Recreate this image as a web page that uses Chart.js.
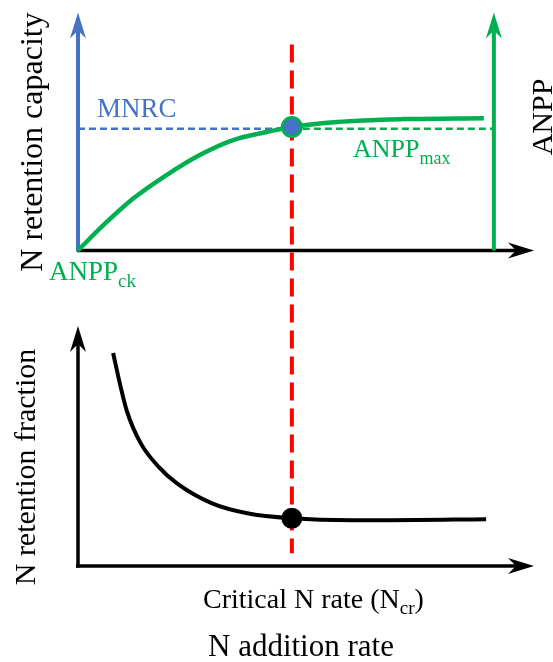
<!DOCTYPE html>
<html>
<head>
<meta charset="utf-8">
<script src="https://cdn.jsdelivr.net/npm/chart.js@4.4.1/dist/chart.umd.min.js"></script>
<style>
  html, body { margin: 0; padding: 0; background: #fff; }
  #wrap { position: relative; width: 553px; height: 662px; }
</style>
</head>
<body>
<div id="wrap"><canvas id="schematic" width="553" height="662"></canvas></div>
<script>
// N addition rate (x) and the two responses
const capacityRate = [0, 0.55, 1.21, 1.95, 2.68, 3.40, 4.14, 4.69, 5.68, 7.13, 8.90];
const retentionCapacity = [0, 1.05, 2.18, 3.18, 4.02, 4.64, 4.98, 5.19, 5.40, 5.52, 5.56];

const fractionRate = [0.77, 0.92, 1.07, 1.38, 1.78, 2.17, 2.94, 3.71, 4.69, 6.03, 6.82, 8.95];
const retentionFraction = [8.88, 7.59, 6.47, 5.10, 4.11, 3.44, 2.61, 2.20, 1.99, 1.91, 1.91, 1.95];

const criticalN = 4.69;       // Ncr
const mnrc = 5.12;            // MNRC / ANPPmax level
const anppAxisAt = 9.12;      // where the ANPP axis stands
const capacityAtNcr = 5.19;
const fractionAtNcr = 1.99;
const redLineTop = 8.66;      // yTop units
const redLineBottom = -12.72;

const BLUE = '#4472C4';
const GREEN = '#00B050';
const RED = '#FF0000';
const SERIF = '"Liberation Serif", "Times New Roman", serif';

function toPoints(xs, ys) {
    return xs.map((x, i) => ({ x: x, y: ys[i] }));
}

function arrowHead(ctx, x, y, dir, color) {
    const len = 26, half = 8, notch = 8;
    ctx.save();
    ctx.translate(x, y);
    if (dir === 'up') ctx.rotate(-Math.PI / 2);
    ctx.fillStyle = color;
    ctx.beginPath();
    ctx.moveTo(0, 0);
    ctx.lineTo(-len, -half);
    ctx.lineTo(-len + notch, 0);
    ctx.lineTo(-len, half);
    ctx.closePath();
    ctx.fill();
    ctx.restore();
}

function line(ctx, x1, y1, x2, y2, color, width) {
    ctx.save();
    ctx.strokeStyle = color;
    ctx.lineWidth = width;
    ctx.beginPath();
    ctx.moveTo(x1, y1);
    ctx.lineTo(x2, y2);
    ctx.stroke();
    ctx.restore();
}

const axesPlugin = {
    id: 'axesPlugin',
    beforeDatasetsDraw(chart) {
        const ctx = chart.ctx;
        const x = chart.scales.x, yt = chart.scales.yTop, yb = chart.scales.yBot;
        const x0 = x.getPixelForValue(0), xEnd = x.getPixelForValue(10);
        const xa = x.getPixelForValue(anppAxisAt);

        // top panel
        line(ctx, x0 - 1, yt.getPixelForValue(0), xEnd - 18, yt.getPixelForValue(0), '#000', 3.5);
        arrowHead(ctx, xEnd, yt.getPixelForValue(0), 'right', '#000');
        line(ctx, x0, yt.getPixelForValue(0) + 1, x0, yt.getPixelForValue(10) + 18, BLUE, 4);
        arrowHead(ctx, x0, yt.getPixelForValue(10), 'up', BLUE);
        line(ctx, xa, yt.getPixelForValue(0), xa, yt.getPixelForValue(10) + 18, GREEN, 4);
        arrowHead(ctx, xa, yt.getPixelForValue(10), 'up', GREEN);

        // bottom panel
        line(ctx, x0 - 2, yb.getPixelForValue(0), xEnd - 18, yb.getPixelForValue(0), '#000', 3.5);
        arrowHead(ctx, xEnd, yb.getPixelForValue(0), 'right', '#000');
        line(ctx, x0, yb.getPixelForValue(0) + 1.5, x0, yb.getPixelForValue(10) + 18, '#000', 3.5);
        arrowHead(ctx, x0, yb.getPixelForValue(10), 'up', '#000');
    },
    afterDraw(chart) {
        const ctx = chart.ctx;
        ctx.save();
        ctx.textBaseline = 'alphabetic';

        function sub(parts, x, y, color) {
            ctx.fillStyle = color;
            ctx.textAlign = 'left';
            let cx = x;
            parts.forEach(p => {
                ctx.font = p.size + 'px ' + SERIF;
                ctx.fillText(p.t, cx, y + (p.dy || 0));
                cx += ctx.measureText(p.t).width;
            });
        }
        function vertical(text, x, y, size) {
            ctx.save();
            ctx.translate(x, y);
            ctx.rotate(-Math.PI / 2);
            ctx.font = size + 'px ' + SERIF;
            ctx.textAlign = 'center';
            ctx.fillStyle = '#000';
            ctx.fillText(text, 0, 0);
            ctx.restore();
        }

        sub([{ t: 'MNRC', size: 27 }], 97, 117, BLUE);
        sub([{ t: 'ANPP', size: 27 }, { t: 'ck', size: 19, dy: 7 }], 49, 280, GREEN);
        sub([{ t: 'ANPP', size: 26 }, { t: 'max', size: 18, dy: 7 }], 353, 157, GREEN);
        sub([{ t: 'Critical N rate (N', size: 28 }, { t: 'cr', size: 19, dy: 6 }, { t: ')', size: 28 }], 203, 608, '#000');
        sub([{ t: 'N addition rate', size: 31 }], 208, 656, '#000');

        vertical('N retention capacity', 42, 142, 32);
        vertical('N retention fraction', 35, 467, 30);
        vertical('ANPP', 552, 117, 30);
        ctx.restore();
    }
};

function draw() {
    new Chart(document.getElementById('schematic').getContext('2d'), {
        type: 'line',
        data: {
            datasets: [
                {
                    type: 'scatter',
                    data: [{ x: criticalN, y: capacityAtNcr }],
                    yAxisID: 'yTop',
                    pointRadius: 9.5,
                    pointBackgroundColor: BLUE,
                    pointBorderColor: GREEN,
                    pointBorderWidth: 3,
                    order: 0
                },
                {
                    type: 'scatter',
                    data: [{ x: criticalN, y: fractionAtNcr }],
                    yAxisID: 'yBot',
                    pointRadius: 10.5,
                    pointBackgroundColor: '#000',
                    pointBorderWidth: 0,
                    order: 0
                },
                {
                    data: toPoints(capacityRate, retentionCapacity),
                    yAxisID: 'yTop',
                    borderColor: GREEN,
                    borderWidth: 4.5,
                    pointRadius: 0,
                    cubicInterpolationMode: 'monotone',
                    order: 1
                },
                {
                    data: toPoints(fractionRate, retentionFraction),
                    yAxisID: 'yBot',
                    borderColor: '#000',
                    borderWidth: 4,
                    pointRadius: 0,
                    cubicInterpolationMode: 'monotone',
                    order: 1
                },
                {
                    data: [{ x: 0, y: mnrc }, { x: criticalN, y: mnrc }],
                    yAxisID: 'yTop',
                    borderColor: BLUE,
                    borderWidth: 2.5,
                    borderDash: [7, 4],
                    pointRadius: 0,
                    order: 2
                },
                {
                    data: [{ x: criticalN, y: mnrc }, { x: anppAxisAt, y: mnrc }],
                    yAxisID: 'yTop',
                    borderColor: GREEN,
                    borderWidth: 2.5,
                    borderDash: [7, 4],
                    pointRadius: 0,
                    order: 2
                },
                {
                    data: [{ x: criticalN, y: redLineTop }, { x: criticalN, y: redLineBottom }],
                    yAxisID: 'yTop',
                    borderColor: RED,
                    borderWidth: 4,
                    borderDash: [18, 8],
                    pointRadius: 0,
                    order: 3
                }
            ]
        },
        options: {
            responsive: false,
            animation: false,
            layout: { padding: { left: 78, right: 19, top: 10, bottom: 96 } },
            plugins: { legend: { display: false }, tooltip: { enabled: false } },
            elements: { line: { borderCapStyle: 'butt' } },
            scales: {
                x: { type: 'linear', min: 0, max: 10, display: false },
                yTop: { type: 'linear', min: -13.26, max: 10, display: false },
                yBot: { type: 'linear', min: 0, max: 23.07, display: false }
            }
        },
        plugins: [axesPlugin]
    });
}

Promise.all([
    document.fonts.load('26px "Liberation Serif"'),
    document.fonts.load('18px "Liberation Serif"')
]).then(draw, draw);
</script>
</body>
</html>
